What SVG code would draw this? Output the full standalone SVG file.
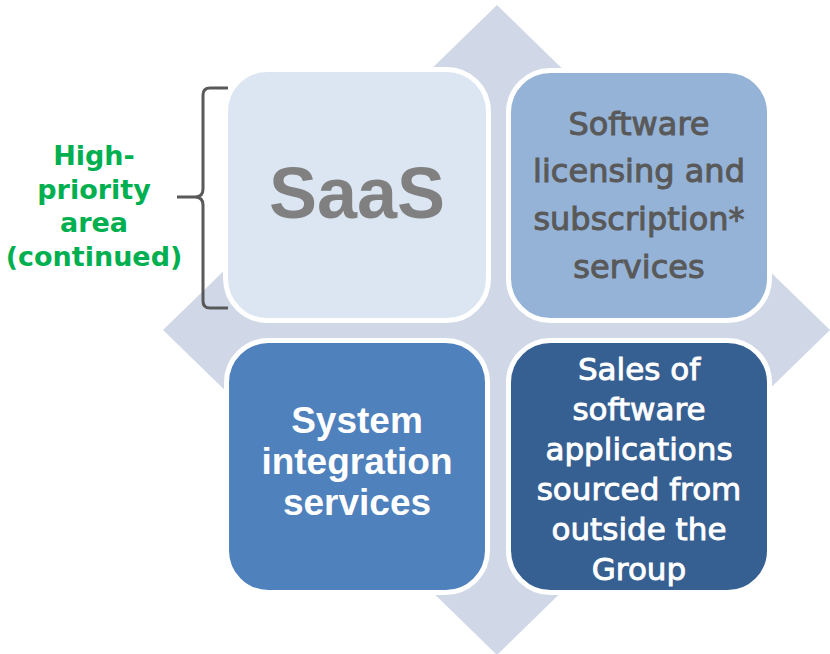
<svg xmlns="http://www.w3.org/2000/svg" width="830" height="654" viewBox="0 0 830 654">
  <style>
    .box { stroke: #ffffff; stroke-width: 5; }
    .jp { font-family: "DejaVu Sans", "Noto Sans CJK JP", sans-serif; text-anchor: middle; }
    .ar { font-family: "Liberation Sans", Arial, sans-serif; font-weight: bold; text-anchor: middle; }
    .green { font-family: "DejaVu Sans", "Noto Sans CJK JP", sans-serif; font-weight: bold; font-size: 27px; fill: #00B050; text-anchor: middle; }
  </style>
  <rect width="830" height="654" fill="#ffffff"/>

  <!-- background diamond -->
  <polygon id="diamond" points="497,5 830,330 497,655 163,330" fill="#D0D8E8"/>

  <!-- side label and brace -->
  <g id="label">
    <text class="green" x="94" y="165">High-</text>
    <text class="green" x="94" y="198.5">priority</text>
    <text class="green" x="94" y="232">area</text>
    <text class="green" x="94" y="265.5">(continued)</text>
  </g>
  <g id="connectors">
    <path d="M228,88 H210 Q203,88 203,95 V189 Q203,197 195,197 H177 M195,197 Q203,197 203,205 V301 Q203,308 210,308 H228" fill="none" stroke="#595959" stroke-width="3"/>
  </g>

  <g id="saas">
    <rect class="box" x="225.5" y="69.5" width="263" height="251" rx="42" fill="#DCE6F2"/>
    <text class="ar" x="357" y="218" font-size="72" fill="#808080">SaaS</text>
  </g>

  <g id="licensing">
    <rect class="box" x="508.5" y="70.5" width="261" height="250" rx="42" fill="#95B3D7"/>
    <g class="jp" font-size="32" fill="#595959" stroke="#595959" stroke-width="1">
      <text x="639" y="135">Software</text>
      <text x="639" y="182">licensing and</text>
      <text x="639" y="230">subscription*</text>
      <text x="639" y="278">services</text>
    </g>
  </g>

  <g id="integration">
    <rect class="box" x="226.5" y="340.5" width="261" height="252" rx="42" fill="#4F81BD"/>
    <g class="ar" font-size="37" fill="#ffffff">
      <text x="357" y="433">System</text>
      <text x="357" y="474">integration</text>
      <text x="357" y="515">services</text>
    </g>
  </g>

  <g id="external">
    <rect class="box" x="508.5" y="340.5" width="261" height="252" rx="42" fill="#376092"/>
    <g class="jp" font-size="31" fill="#ffffff" stroke="#ffffff" stroke-width="0.9">
      <text x="639" y="380">Sales of</text>
      <text x="639" y="420">software</text>
      <text x="639" y="460">applications</text>
      <text x="639" y="500">sourced from</text>
      <text x="639" y="540">outside the</text>
      <text x="639" y="580">Group</text>
    </g>
  </g>
</svg>
